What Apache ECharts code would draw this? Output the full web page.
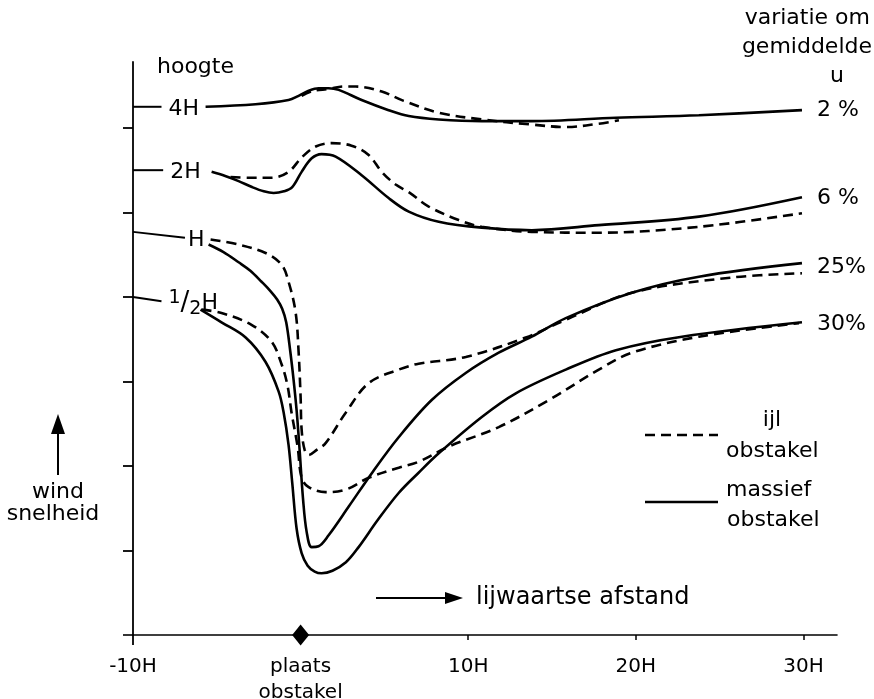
<!DOCTYPE html>
<html><head><meta charset="utf-8">
<script src="https://cdn.jsdelivr.net/npm/echarts@6/dist/echarts.min.js"></script>
<style>html,body{margin:0;padding:0;background:#fff}#c{width:874px;height:699px}</style>
</head><body><div id="c"></div>
<script>
// x in units of H (distance from obstacle), y in relative wind-speed units
const xTickValues = [-10, 0, 10, 20, 30];
const xTickLabels = ['-10H', 'plaats\nobstakel', '10H', '20H', '30H'];
const xSmallTicks = [10, 20, 30];
const yTickValues = [1, 2, 3, 4, 5, 6];

const heightNames = ['4H', '2H', 'H', '½H'];
const heightLevels = [6.25, 5.5, 4.77, 4.0];
const heightLevelEnds = [6.25, 5.5, 4.70, 3.95];
const heightTickEnds = [-8.3, -8.2, -6.9, -8.3];
const variationLabels = ['2 %', '6 %', '25%', '30%'];

// massief obstakel (solid)
const massief4H = [[-5.67,6.25],[-2.69,6.28],[-0.72,6.33],[-0.12,6.38],[0.48,6.44],[1.07,6.47],[1.67,6.47],[2.27,6.45],[3.64,6.33],[5.25,6.21],[6.45,6.14],[8.24,6.10],[10.81,6.08],[13.79,6.08],[18.81,6.12],[23.76,6.15],[29.91,6.21]];
const massief2H = [[-5.31,5.48],[-4.50,5.43],[-3.70,5.37],[-2.90,5.30],[-2.20,5.25],[-1.61,5.23],[-1.00,5.25],[-0.50,5.30],[0.06,5.48],[0.66,5.64],[1.25,5.69],[2.09,5.66],[3.64,5.44],[5.25,5.17],[6.45,5.01],[8.24,4.89],[10.81,4.82],[13.79,4.79],[17.79,4.85],[23.76,4.95],[29.91,5.18]];
const massiefH = [[-5.49,4.62],[-4.60,4.53],[-3.70,4.41],[-3.00,4.31],[-2.33,4.18],[-1.80,4.07],[-1.40,3.97],[-1.10,3.86],[-0.86,3.70],[-0.62,3.36],[-0.42,3.02],[-0.24,2.66],[-0.06,2.19],[0.14,1.62],[0.36,1.22],[0.66,1.04],[1.07,1.05],[1.67,1.18],[2.87,1.52],[4.30,1.93],[5.85,2.34],[7.82,2.78],[9.85,3.10],[11.82,3.34],[13.79,3.53],[15.82,3.75],[19.76,4.05],[23.76,4.24],[29.91,4.40]];
const massiefHalfH = [[-5.97,3.85],[-4.72,3.70],[-3.28,3.52],[-2.09,3.23],[-1.31,2.88],[-1.01,2.63],[-0.72,2.25],[-0.50,1.80],[-0.24,1.26],[0.06,0.97],[0.42,0.82],[0.84,0.75],[1.25,0.73],[1.90,0.76],[2.70,0.86],[3.46,1.04],[4.60,1.36],[5.85,1.68],[7.04,1.92],[8.24,2.15],[10.81,2.58],[12.84,2.86],[15.82,3.14],[18.81,3.37],[22.75,3.53],[29.91,3.70]];

// ijl obstakel (dashed)
const ijl4H = [[0.06,6.38],[0.78,6.44],[1.67,6.46],[2.57,6.49],[3.28,6.49],[4.84,6.43],[6.15,6.32],[8.24,6.18],[10.81,6.10],[13.79,6.04],[15.82,6.01],[17.79,6.05],[18.99,6.09]];
const ijl2H = [[-4.18,5.42],[-3.10,5.41],[-1.73,5.41],[-0.72,5.48],[0.06,5.65],[0.90,5.78],[1.85,5.82],[3.04,5.79],[4.06,5.68],[4.84,5.48],[5.67,5.33],[6.45,5.24],[7.64,5.07],[9.43,4.91],[10.81,4.83],[13.79,4.77],[17.79,4.76],[23.76,4.83],[29.91,4.99]];
const ijlH = [[-5.37,4.68],[-3.70,4.62],[-2.09,4.52],[-1.13,4.38],[-0.72,4.18],[-0.30,3.82],[-0.12,3.35],[0,2.81],[0.06,2.43],[0.24,2.19],[0.48,2.13],[0.96,2.19],[1.49,2.27],[2.69,2.63],[4.06,2.98],[5.85,3.14],[7.04,3.21],[9.85,3.29],[13.43,3.52],[15.82,3.73],[19.76,4.05],[25.73,4.23],[29.91,4.28]];
const ijlHalfH = [[-5.91,3.85],[-4.72,3.81],[-2.93,3.67],[-1.73,3.47],[-1.13,3.20],[-0.78,2.95],[-0.54,2.63],[-0.18,2.23],[0.06,1.86],[0.48,1.75],[1.49,1.69],[2.69,1.72],[4.06,1.86],[5.85,1.98],[7.04,2.05],[8.84,2.23],[11.82,2.46],[14.81,2.78],[17.79,3.14],[19.76,3.34],[23.76,3.53],[29.73,3.69]];

const obstaclePos = [[0, 0]];

const FONT = 'DejaVu Sans';
const FS = 22;
const SMOOTH = 0.35;
const solidSets = [massief4H, massief2H, massiefH, massiefHalfH];
const dashedSets = [ijl4H, ijl2H, ijlH, ijlHalfH];
const labelOffsets = [[0,0],[0,1],[0,4],[0,2]];
const hidden = { color: 'rgba(0,0,0,0)', borderWidth: 0 };

const series = [];
solidSets.forEach((d, k) => {
  series.push({
    type: 'line', smooth: SMOOTH, symbol: 'circle', symbolSize: 2, showSymbol: true, silent: true,
    itemStyle: hidden,
    lineStyle: { color: '#000', width: 2.6 },
    data: d.map((p, i) => i === d.length - 1 ? {
      value: p,
      label: { show: true, position: 'right', distance: 14, offset: labelOffsets[k],
        formatter: variationLabels[k], fontFamily: FONT, fontSize: FS, color: '#000' }
    } : p)
  });
});
dashedSets.forEach(d => {
  series.push({
    type: 'line', smooth: SMOOTH, symbol: 'none', silent: true,
    lineStyle: { color: '#000', width: 2.6, type: [10, 6] },
    data: d
  });
});
heightNames.forEach((n, k) => {
  const isHalf = n === '½H';
  series.push({
    type: 'line', symbol: 'circle', symbolSize: 2, showSymbol: true, silent: true,
    itemStyle: hidden,
    lineStyle: { color: '#000', width: 2 },
    data: [[-10, heightLevels[k]], {
      value: [heightTickEnds[k], heightLevelEnds[k]],
      label: { show: true, position: 'right', distance: k === 2 ? 2 : 6, offset: [0, 2],
        formatter: isHalf ? '{n|1}{s|/}{d|2}{h|H}' : n,
        fontFamily: FONT, fontSize: FS, color: '#000',
        rich: isHalf ? {
          n: { fontFamily: FONT, fontSize: 19, verticalAlign: 'top', lineHeight: 30, color: '#000' },
          s: { fontFamily: FONT, fontSize: 26, lineHeight: 30, color: '#000' },
          d: { fontFamily: FONT, fontSize: 19, verticalAlign: 'bottom', lineHeight: 30, color: '#000' },
          h: { fontFamily: FONT, fontSize: FS, lineHeight: 30, color: '#000' }
        } : undefined }
    }]
  });
});
series.push({
  type: 'scatter', symbol: 'diamond', symbolSize: [17, 21], clip: false, silent: true, z: 10,
  itemStyle: { color: '#000', opacity: 1 }, data: obstaclePos
});

const txt = (x, y, t, align, size) => ({
  type: 'text', x, y, silent: true,
  style: { text: t, fontFamily: FONT, fontSize: size || FS, fill: '#000',
    align: align || 'left', verticalAlign: 'middle' }
});

const chart = echarts.init(document.getElementById('c'), null, { renderer: 'canvas' });
chart.setOption({
  backgroundColor: '#fff',
  animation: false,
  grid: { left: 133, right: 37, top: 62, bottom: 64, containLabel: false, outerBoundsMode: 'none' },
  xAxis: {
    type: 'value', min: -10, max: 32, interval: 10,
    axisLine: { onZero: false, lineStyle: { color: '#000', width: 1.6 } },
    axisTick: { show: true, customValues: xSmallTicks, length: 5, lineStyle: { color: '#000', width: 1.5 } },
    axisLabel: { customValues: xTickValues, margin: 19, fontFamily: FONT, fontSize: 20, color: '#000', lineHeight: 26,
      formatter: v => xTickLabels[xTickValues.indexOf(v)] },
    splitLine: { show: false }
  },
  yAxis: {
    type: 'value', min: 0, max: 6.78,
    axisLine: { show: true, onZero: false, lineStyle: { color: '#000', width: 1.8 } },
    axisTick: { show: true, customValues: yTickValues, length: 10, lineStyle: { color: '#000', width: 1.8 } },
    axisLabel: { show: false },
    splitLine: { show: false }
  },
  series,
  graphic: [
    { type: 'line', silent: true, shape: { x1: 123, y1: 635, x2: 134, y2: 635 }, style: { stroke: '#000', lineWidth: 1.6 } },
    { type: 'line', silent: true, shape: { x1: 133, y1: 635, x2: 133, y2: 645 }, style: { stroke: '#000', lineWidth: 1.8 } },
    txt(157, 67, 'hoogte'),
    txt(870, 18, 'variatie om', 'right'),
    txt(872, 47, 'gemiddelde', 'right'),
    txt(837, 76, 'u', 'center'),
    txt(58, 492, 'wind', 'center'),
    txt(53, 514, 'snelheid', 'center'),
    { type: 'line', silent: true, shape: { x1: 58, y1: 475, x2: 58, y2: 430 }, style: { stroke: '#000', lineWidth: 2 } },
    { type: 'polygon', silent: true, shape: { points: [[58, 414], [51, 434], [65, 434]] }, style: { fill: '#000' } },
    { type: 'line', silent: true, shape: { x1: 376, y1: 598, x2: 450, y2: 598 }, style: { stroke: '#000', lineWidth: 2 } },
    { type: 'polygon', silent: true, shape: { points: [[463, 598], [445, 592], [445, 604]] }, style: { fill: '#000' } },
    txt(476, 598, 'lijwaartse afstand', 'left', 24),
    { type: 'line', silent: true, shape: { x1: 645, y1: 435, x2: 718, y2: 435 }, style: { stroke: '#000', lineWidth: 2.6, lineDash: [10, 6] } },
    txt(772, 420, 'ijl', 'center'),
    txt(726, 451, 'obstakel'),
    { type: 'line', silent: true, shape: { x1: 645, y1: 502, x2: 718, y2: 502 }, style: { stroke: '#000', lineWidth: 2.6 } },
    txt(726, 490, 'massief'),
    txt(727, 520, 'obstakel')
  ]
});
</script>
</body></html>
